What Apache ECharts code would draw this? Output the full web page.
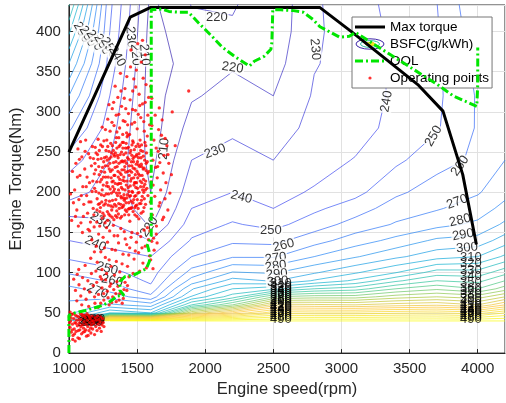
<!DOCTYPE html>
<html><head><meta charset="utf-8">
<script src="https://cdn.jsdelivr.net/npm/echarts@6/dist/echarts.min.js"></script>
<style>html,body{margin:0;padding:0;background:#fff}#c{width:506px;height:403px}</style>
</head><body><div id="c"></div>
<script>
// ---------------- data ----------------
const speedGrid = [1000,1300,1600,1900,2200,2500,2800,3100,3400,3700,4000,4200];
const torqueGrid = [40,50,60,70,80,90,100,120,140,160,180,200,240,280,320,360,400,440];
// BSFC (g/kWh) at each speed column, one value per torqueGrid row
const bsfc1000 = [300,286,282,278,272,266,259,248,240,232,228,232,245,262,280,300,322,345];
const bsfc1300 = [500,320,292,276,266,259,253,244,236,231,228,228,230,235,240,246,250,253];
const bsfc1600 = [500,310,285,263,253,248,245,240,230,219,214,210,207,205,205,205,206,208];
const bsfc1900 = [500,400,340,312,299,284,274,260,251,245,240,236,230,224,219,214,217,221];
const bsfc2200 = [500,430,370,335,320,304,291,269,258,251,245,240,234,228,223,219,218,222];
const bsfc2500 = [500,457,414,370,327,299,289,269,257,247,240,237,230,225,220,216,213,212];
const bsfc2800 = [500,455,412,375,340,311,299,280,266,255,248,241,236,233,231,229.5,229,229];
const bsfc3100 = [500,455,410,375,345,322,309,289,275,264,255,247,240.5,236,234,233,233,234];
const bsfc3400 = [500,458,415,385,360,338,320,298,283,271,265,258,248,243,242,242,243,245];
const bsfc3700 = [500,460,418,390,368,350,335,306,292,277,269,265,256,249,248,248,249,250];
const bsfc4000 = [500,455,410,385,360,347,334,310,294,282,275,269,262,261,261,263,266,269];
const bsfc4200 = [500,470,430,400,375,360,347,322,305,292,283,277,270,266,264,263,262,262];
const bsfcLevels = [210,220,230,240,250,260,270,280,290,300,310,320,330,340,350,360,370,380,390,400,410,420,430,440,450,460,470,480,490,500];

const maxTorqueSpeed = [1000,1450,1600,2840,3080,3560,3745,3890,3990];
const maxTorqueValue = [250,418,430,430,399,334,301,222,135];

const oolSpeed  = [1000,1000,1043,1122,1223,1281,1317,1353,1403,1374,1374,1410,1475,1532,1568,1590,1597,1583,1576,1590,1604,1604,1604,1680,1734,1806,1878,1950,2050,2122,2216,2324,2360,2432,2482,2489,2496,2554,2647,2719,2791,2842,2986,3058,3101,3705,3820,3993,4000,4000];
const oolTorque = [0,47,50,53,58,62,66,71,72,78,89,95,97,102,105,114,121,130,134,140,146,167,427,428,425,424,424,411,394,381,369,357,363,369,378,386,427,427,426,424,415,406,393,394,399,334,320,307,334,380];

// operating points (rpm, Nm)
const opCore = [[1162,188],[1175,214],[1183,172],[1191,236],[1198,201],[1204,163],[1210,247],[1216,185],[1222,222],[1227,176],
[1233,259],[1238,197],[1243,168],[1247,231],[1252,209],[1256,184],[1261,243],[1265,162],[1270,219],[1274,198],
[1278,265],[1282,176],[1286,233],[1290,207],[1294,251],[1298,189],[1302,171],[1305,226],[1309,244],[1312,199],
[1316,213],[1319,258],[1323,182],[1327,237],[1330,166],[1334,204],[1337,221],[1341,249],[1344,191],[1348,268],
[1351,177],[1354,232],[1358,210],[1361,243],[1365,186],[1368,257],[1371,199],[1375,224],[1378,168],[1382,238],
[1385,206],[1388,181],[1392,262],[1395,215],[1398,193],[1402,247],[1405,228],[1409,172],[1412,203],[1415,255],
[1419,187],[1422,236],[1426,214],[1429,197],[1433,271],[1436,179],[1440,241],[1443,221],[1447,164],[1450,208],
[1454,252],[1457,189],[1461,233],[1464,201],[1468,264],[1471,176],[1475,218],[1478,244],[1482,195],[1485,229],
[1489,183],[1492,257],[1496,212],[1499,170],[1503,238],[1506,199],[1510,223],[1514,248],[1518,186],[1522,265],
[1526,207],[1530,174],[1534,232],[1538,195],[1542,251],[1547,216],[1551,181],[1556,240],[1561,203],[1566,227],
[1180,242],[1196,228],[1214,266],[1229,213],[1241,188],[1258,196],[1272,252],[1288,219],[1300,236],[1314,178],
[1328,201],[1339,231],[1352,255],[1363,173],[1376,247],[1389,228],[1401,184],[1413,239],[1424,176],[1437,256],
[1448,227],[1459,181],[1470,242],[1481,212],[1494,235],[1507,260],[1520,221],[1532,190],[1545,229],[1558,262],
[1170,201],[1206,178],[1237,242],[1262,225],[1284,165],[1307,261],[1325,214],[1346,183],[1367,236],[1386,250],
[1404,197],[1420,261],[1441,201],[1458,217],[1476,191],[1497,247],[1513,167],[1529,243],[1549,200],[1569,249],
[1193,256],[1220,199],[1249,174],[1276,208],[1297,242],[1320,190],[1343,262],[1362,219],[1384,193],[1407,214],
[1430,243],[1452,196],[1473,230],[1491,206],[1512,234],[1535,212],[1553,192],[1575,238],[1213,241],[1246,257],
[1268,186],[1292,173],[1318,228],[1336,245],[1357,196],[1380,211],[1399,238],[1417,225],[1439,187],[1462,246],
[1484,172],[1505,218],[1527,252],[1544,176],[1563,214],[1580,196],[1186,223],[1225,186],[1253,219],[1281,240]];
const opCore2 = [[1188,205],[1199,249],[1207,192],[1219,232],[1231,181],[1236,226],[1244,203],[1255,238],[1259,171],[1267,233],
[1271,190],[1279,212],[1285,257],[1289,184],[1296,229],[1303,204],[1308,183],[1313,249],[1317,169],[1322,207],
[1326,252],[1331,221],[1335,185],[1340,211],[1345,238],[1349,199],[1353,169],[1356,246],[1360,226],[1364,203],
[1369,180],[1373,216],[1377,259],[1381,195],[1384,222],[1387,170],[1391,239],[1394,204],[1397,182],[1400,262],
[1403,219],[1406,190],[1410,232],[1414,178],[1418,249],[1421,209],[1425,193],[1428,255],[1432,226],[1435,206],
[1439,172],[1442,233],[1446,195],[1449,249],[1453,214],[1456,180],[1460,225],[1463,259],[1467,200],[1470,187],
[1474,238],[1477,209],[1480,253],[1484,181],[1487,222],[1490,196],[1493,245],[1497,184],[1500,226],[1504,205],
[1508,180],[1511,243],[1515,200],[1519,232],[1523,214],[1528,186],[1533,259],[1537,221],[1541,203],[1546,245],
[1552,230],[1557,210],[1562,185],[1567,236],[1572,205],[1205,213],[1223,252],[1239,216],[1257,264],[1275,244],
[1291,198],[1310,218],[1329,247],[1342,171],[1366,268],[1380,185],[1396,255],[1411,192],[1427,269],[1444,180],
[1458,238],[1472,262],[1488,212],[1502,191],[1517,257],[1531,235],[1548,207],[1564,258],[1578,224],[1366,211]];
const opUpper = [[1268,278],[1285,291],[1302,276],[1318,304],[1331,283],[1347,296],[1359,318],[1372,280],[1386,307],[1398,289],
[1411,329],[1423,274],[1437,298],[1449,315],[1462,285],[1476,341],[1488,302],[1501,279],[1515,322],[1527,293],
[1540,310],[1553,276],[1566,334],[1579,296],[1592,284],[1294,309],[1339,332],[1378,348],[1417,304],[1452,356],
[1490,331],[1531,362],[1560,312],[1352,275],[1395,272],[1431,284],[1467,303],[1509,297],[1549,288],[1585,318],
[1316,287],[1366,297],[1406,317],[1445,272],[1482,287],[1520,308],[1575,270],[1455,377],[1505,385],[1540,389],
[1425,344],[1495,352],[1468,326],[1382,326],[1545,342],[1600,332],[1244,281],[1328,312],[1412,288],[1560,371]];
const opRight = [[1590,226],[1598,188],[1605,247],[1612,172],[1618,209],[1624,265],[1630,195],[1636,231],[1642,158],[1648,218],
[1655,251],[1661,183],[1667,237],[1673,203],[1679,271],[1686,166],[1692,224],[1698,246],[1705,192],[1712,212],
[1719,258],[1726,178],[1733,236],[1741,199],[1752,222],[1609,283],[1633,296],[1658,278],[1684,290],[1706,267],
[1594,152],[1621,143],[1647,137],[1616,240],[1640,255],[1668,187],[1695,169],[1727,247],[1603,213],[1651,232],
[1879,326],[1758,300],[1780,258],[1663,305],[1608,317]];
const opLeft = [[1042,203],[1051,236],[1058,178],[1066,254],[1073,191],[1081,221],[1088,162],[1095,244],[1102,207],[1109,185],
[1116,229],[1123,265],[1130,196],[1137,174],[1144,248],[1151,212],[1158,163],[1165,233],[1172,257],[1178,180],
[1048,170],[1062,219],[1077,241],[1091,196],[1106,170],[1119,251],[1133,219],[1147,188],[1012,198],[1026,226],
[1033,187],[1085,263],[1127,207],[1156,243],[1069,158],[1099,150],[1141,154],[1020,165]];
const opTail = [[1152,152],[1168,141],[1185,157],[1201,133],[1218,148],[1234,126],[1251,144],[1267,119],[1283,138],[1299,152],
[1316,129],[1332,146],[1348,114],[1364,137],[1381,155],[1397,123],[1413,142],[1430,108],[1446,131],[1462,150],
[1478,117],[1495,138],[1511,125],[1527,145],[1543,112],[1560,133],[1576,156],[1592,121],[1608,139],[1625,128],
[1208,113],[1243,104],[1276,156],[1309,108],[1341,128],[1373,101],[1406,151],[1439,122],[1471,99],[1503,149],
[1536,131],[1568,106],[1600,116],[1187,126],[1226,158],[1261,131],[1295,116],[1326,159],[1358,146],[1390,111],
[1424,135],[1456,144],[1487,127],[1519,102],[1551,153],[1584,141],[1617,105],[1641,148]];
const opLow = [[1035,92],[1048,78],[1061,98],[1074,85],[1087,71],[1100,94],[1113,80],[1126,67],[1139,90],[1152,76],
[1165,99],[1178,84],[1191,62],[1204,88],[1217,73],[1230,95],[1243,81],[1256,66],[1269,91],[1282,77],
[1295,60],[1308,86],[1321,70],[1334,97],[1347,64],[1360,83],[1373,74],[1386,92],[1399,68],[1412,88],
[1425,78],[1441,95],[1058,65],[1094,60],[1145,58],[1188,70],[1233,62],[1276,99],[1314,63],[1352,89],
[1391,62],[1430,84],[1072,104],[1119,109],[1160,118],[1198,102],[1240,92],[1287,69],[1329,79],[1368,66],
[1255,74],[1300,83],[1215,57],[1344,74],[1404,79]];
const opBlob = [[1003,45],[1008,32],[1012,40],[1017,26],[1021,48],[1026,36],[1030,22],[1035,43],[1039,30],[1044,38],
[1048,47],[1053,27],[1057,41],[1062,34],[1066,19],[1071,45],[1075,37],[1080,29],[1084,49],[1089,42],
[1093,24],[1098,35],[1102,46],[1107,31],[1111,39],[1116,27],[1120,44],[1125,36],[1129,21],[1134,41],
[1138,33],[1143,47],[1147,28],[1152,38],[1156,43],[1161,25],[1165,35],[1170,46],[1174,30],[1179,40],
[1183,37],[1188,23],[1192,44],[1197,33],[1201,41],[1206,28],[1210,46],[1215,36],[1219,42],[1224,31],
[1228,39],[1233,45],[1237,27],[1242,35],[1247,43],[1252,38],[1257,33],[1005,38],[1015,44],[1024,29],
[1033,49],[1042,24],[1051,37],[1060,46],[1069,28],[1078,41],[1087,33],[1096,48],[1105,26],[1114,47],
[1123,29],[1132,49],[1141,22],[1150,45],[1159,31],[1168,40],[1009,51],[1028,17],[1046,15],[1077,18]];

// contour labels: [text, rpm, Nm, rotation]
const contourLabels = [
 [290,1094,399,-60],[280,1137,394,-60],[270,1187,389,-60],[260,1245,384,-60],[250,1295,380,-60],[240,1353,369,-60],
 [230,1453,393,-85],[220,1489,371,-85],[210,1554,371,-85],
 [220,2086,417,0],[220,2201,355,-8],[230,2806,378,-85],[210,1698,254,85],[230,2072,251,20],
 [240,2266,194,-14],[250,2482,152,0],[260,2575,134,14],[270,2518,118,8],[280,2518,108,8],[290,2525,98,5],[300,2532,89,4],
 [240,3331,313,80],[250,3676,270,60],[260,3870,233,55],[270,3849,188,20],[280,3870,165,14],[290,3892,147,10],[300,3921,131,5],
 [240,1194,136,-25],[230,1230,165,-32],[250,1281,105,-15],[260,1317,90,-12],[270,1209,77,-22],[220,1590,157,55]
];
// stacked (cluttered) labels in the dense band
const stack2500Levels = [310,320,330,340,350,360,370,380,390,400,410,420,430,440,450,460,470,480,490];
const stack4000Levels = [310,320,330,340,350,360,370,380,390,400,410,420,430,440,450,460,470,480,490];
const stackLeft = [[290,1140,38],[300,1148,41],[310,1155,39],[320,1162,42],[330,1168,38],[340,1175,41],[350,1181,39],[360,1186,42]];

// ---------------- helpers ----------------
const FONT = '"Liberation Sans", Arial, Helvetica, sans-serif';
const cols = [bsfc1000,bsfc1300,bsfc1600,bsfc1900,bsfc2200,bsfc2500,bsfc2800,bsfc3100,bsfc3400,bsfc3700,bsfc4000,bsfc4200];
const V = (i,j) => cols[i][j];

const parulaStops = [[0.2422,0.1504,0.6603],[0.2810,0.3228,0.9579],[0.1786,0.5289,0.9682],[0.0689,0.6948,0.8394],
 [0.2161,0.7843,0.5923],[0.6720,0.7793,0.2227],[0.9970,0.7659,0.2199],[0.9600,0.8800,0.1500],[0.9763,0.9831,0.0538]];
function parula(v, lo, hi){
  let t = Math.max(0, Math.min(1, (v-lo)/(hi-lo))) * (parulaStops.length-1);
  const k = Math.min(Math.floor(t), parulaStops.length-2), f = t-k;
  const c = parulaStops[k].map((x,n)=> Math.round(255*(x + f*(parulaStops[k+1][n]-x))));
  return 'rgb('+c.join(',')+')';
}
function edgePoint(p,q,vp,vq,L){ const f=(L-vp)/(vq-vp); return [p[0]+f*(q[0]-p[0]), p[1]+f*(q[1]-p[1])]; }
function chain(segs){
  const key=p=>p[0].toFixed(4)+','+p[1].toFixed(4);
  const map=new Map(); const used=new Array(segs.length).fill(false);
  segs.forEach((s,k)=>{ if(key(s[0])===key(s[1])){used[k]=true;return;}
    [0,1].forEach(e=>{const kk=key(s[e]); if(!map.has(kk)) map.set(kk,[]); map.get(kk).push(k);}); });
  const next=p=>{const arr=map.get(key(p))||[]; for(const k of arr){ if(!used[k]) return k;} return -1;};
  const lines=[];
  for(let k=0;k<segs.length;k++){
    if(used[k]) continue; used[k]=true;
    const line=[segs[k][0],segs[k][1]]; let n;
    while((n=next(line[line.length-1]))>=0){ used[n]=true; const s=segs[n]; line.push(key(s[0])===key(line[line.length-1])?s[1]:s[0]); }
    while((n=next(line[0]))>=0){ used[n]=true; const s=segs[n]; line.unshift(key(s[0])===key(line[0])?s[1]:s[0]); }
    lines.push(line);
  }
  return lines;
}
function contourLines(L){
  const S=speedGrid, T=torqueGrid, segs=[], up=v=>v>=L;
  for(let j=0;j<T.length-1;j++) for(let i=0;i<S.length-1;i++){
    const a=V(i,j), b=V(i+1,j), c=V(i+1,j+1), d=V(i,j+1);
    const A=[S[i],T[j]], B=[S[i+1],T[j]], C=[S[i+1],T[j+1]], D=[S[i],T[j+1]];
    const p=[ up(a)!==up(b)?edgePoint(A,B,a,b,L):null, up(b)!==up(c)?edgePoint(B,C,b,c,L):null,
              up(d)!==up(c)?edgePoint(D,C,d,c,L):null, up(a)!==up(d)?edgePoint(A,D,a,d,L):null ];
    const idx=[0,1,2,3].filter(k=>p[k]);
    if(idx.length===2) segs.push([p[idx[0]],p[idx[1]]]);
    else if(idx.length===4){
      const m=(a+b+c+d)/4;
      if(up(m)===up(a)){ segs.push([p[0],p[1]]); segs.push([p[2],p[3]]); }
      else { segs.push([p[3],p[0]]); segs.push([p[1],p[2]]); }
    }
  }
  return chain(segs);
}
function fieldAt(x,y){
  const S=speedGrid,T=torqueGrid;
  let i=0; while(i<S.length-2 && x>S[i+1]) i++;
  let j=0; while(j<T.length-2 && y>T[j+1]) j++;
  const u=(x-S[i])/(S[i+1]-S[i]), w=(y-T[j])/(T[j+1]-T[j]);
  return (1-u)*(1-w)*V(i,j)+u*(1-w)*V(i+1,j)+u*w*V(i+1,j+1)+(1-u)*w*V(i,j+1);
}
function torqueOnLevel(x,L){ for(let y=40;y<=250;y+=0.2){ if(fieldAt(x,y)<L) return y; } return 40; }

// ---------------- series ----------------
const series = [];
bsfcLevels.forEach(L=>{
  const data=[];
  contourLines(L).forEach(line=>{ line.forEach(pt=>data.push(pt)); data.push(['-','-']); });
  series.push({ type:'line', name:'BSFC(g/kWh)', data, symbol:'none', showSymbol:false, connectNulls:false,
    lineStyle:{ color:parula(L,205,500), width:0.9, opacity:0.8 }, silent:true, z:2, animation:false });
});

const labelCommon = { show:true, position:'inside', color:'#000', fontSize:13, fontFamily:FONT, formatter:p=>p.name };
const mainLabelData = contourLabels.map(([t,r,q,rot])=>({ name:String(t), value:[r,q], label:{ rotate:rot } }));
const stackData = [];
stack2500Levels.forEach(L=> stackData.push({ name:String(L), value:[2555, torqueOnLevel(2555,L)] }));
stack4000Levels.forEach(L=> stackData.push({ name:String(L), value:[3950, torqueOnLevel(3950,L)] }));
stackLeft.forEach(([L,r,q])=> stackData.push({ name:String(L), value:[r,q] }));

series.push({ type:'scatter', name:'labels', data:mainLabelData, symbolSize:1, itemStyle:{color:'rgba(0,0,0,0)'},
  label:Object.assign({ backgroundColor:'#fff', padding:[0,1] }, labelCommon), silent:true, z:3, animation:false });
series.push({ type:'scatter', name:'labels2', data:stackData, symbolSize:1, itemStyle:{color:'rgba(0,0,0,0)'},
  label:labelCommon, silent:true, z:3, animation:false });

series.push({ type:'line', name:'Max torque', data:maxTorqueSpeed.map((s,k)=>[s,maxTorqueValue[k]]),
  symbol:'none', lineStyle:{ color:'#000', width:3 }, z:4, silent:true, animation:false });
series.push({ type:'scatter', name:'Operating points', data:[].concat(opCore,opCore2,opUpper,opRight,opLeft,opTail,opLow,opBlob),
  symbolSize:3.3, itemStyle:{ color:'#ff0000' }, z:5, silent:true, animation:false });
series.push({ type:'line', name:'OOL', data:oolSpeed.map((s,k)=>[s,oolTorque[k]]),
  symbol:'none', lineStyle:{ color:'#00e600', width:3, type:[8,3,2,3] }, z:6, silent:true, animation:false });

const svgIcon = s => 'image://data:image/svg+xml;charset=utf-8,' + encodeURIComponent(
  '<svg xmlns="http://www.w3.org/2000/svg" width="30" height="12" viewBox="0 0 30 12">'+s+'</svg>');
const legendData = [
  { name:'Max torque', icon:svgIcon('<line x1="0" y1="6" x2="30" y2="6" stroke="#000" stroke-width="3"/>') },
  { name:'BSFC(g/kWh)', icon:svgIcon('<ellipse cx="15" cy="6" rx="14" ry="5.2" fill="none" stroke="#3e26a8" stroke-width="1"/><ellipse cx="15" cy="6" rx="9.5" ry="3.4" fill="none" stroke="#2fbfa0" stroke-width="1"/><ellipse cx="15" cy="6" rx="5" ry="1.7" fill="#f4e62a" stroke="#e6d61c" stroke-width="1"/>') },
  { name:'OOL', icon:svgIcon('<line x1="0" y1="6" x2="30" y2="6" stroke="#00e600" stroke-width="3" stroke-dasharray="8,3,2,3"/>') },
  { name:'Operating points', icon:svgIcon('<circle cx="15" cy="6" r="1.6" fill="#ff0000"/>') }
];

const axisCommon = {
  axisLine:{ show:true, lineStyle:{ color:'#262626', width:1 } },
  axisTick:{ show:true, inside:true, length:4, lineStyle:{ color:'#262626' } },
  splitLine:{ show:true, lineStyle:{ color:'#e1e1e1', width:1 } },
  nameLocation:'middle',
  nameTextStyle:{ fontSize:16.5, color:'#262626', fontFamily:FONT }
};
const tickFmt = v => String(v);
const chart = echarts.init(document.getElementById('c'), null, { renderer:'canvas' });
chart.setOption({
  animation:false,
  backgroundColor:'#fff',
  grid:{ left:61, right:1, top:5, bottom:48, show:true, borderColor:'#262626', borderWidth:1, backgroundColor:'transparent' },
  xAxis: Object.assign({}, axisCommon, { type:'value', min:1000, max:4200, interval:500, name:'Engine speed(rpm)', nameGap:23,
    axisLabel:{ fontSize:15, color:'#262626', fontFamily:FONT, margin:8, showMaxLabel:false, formatter:tickFmt } }),
  yAxis: Object.assign({}, axisCommon, { type:'value', min:0, max:433, interval:50, name:'Engine Torque(Nm)', nameGap:38,
    axisLabel:{ fontSize:15, color:'#262626', fontFamily:FONT, margin:8, showMaxLabel:false, formatter:tickFmt } }),
  legend:{ orient:'vertical', left:352, top:17, padding:[3,3,3,3], itemGap:3, itemWidth:30, itemHeight:12,
    backgroundColor:'#fff', borderColor:'#777', borderWidth:1, selectedMode:false,
    textStyle:{ fontSize:13.5, color:'#000', fontFamily:FONT }, data:legendData },
  series
});
</script></body></html>
